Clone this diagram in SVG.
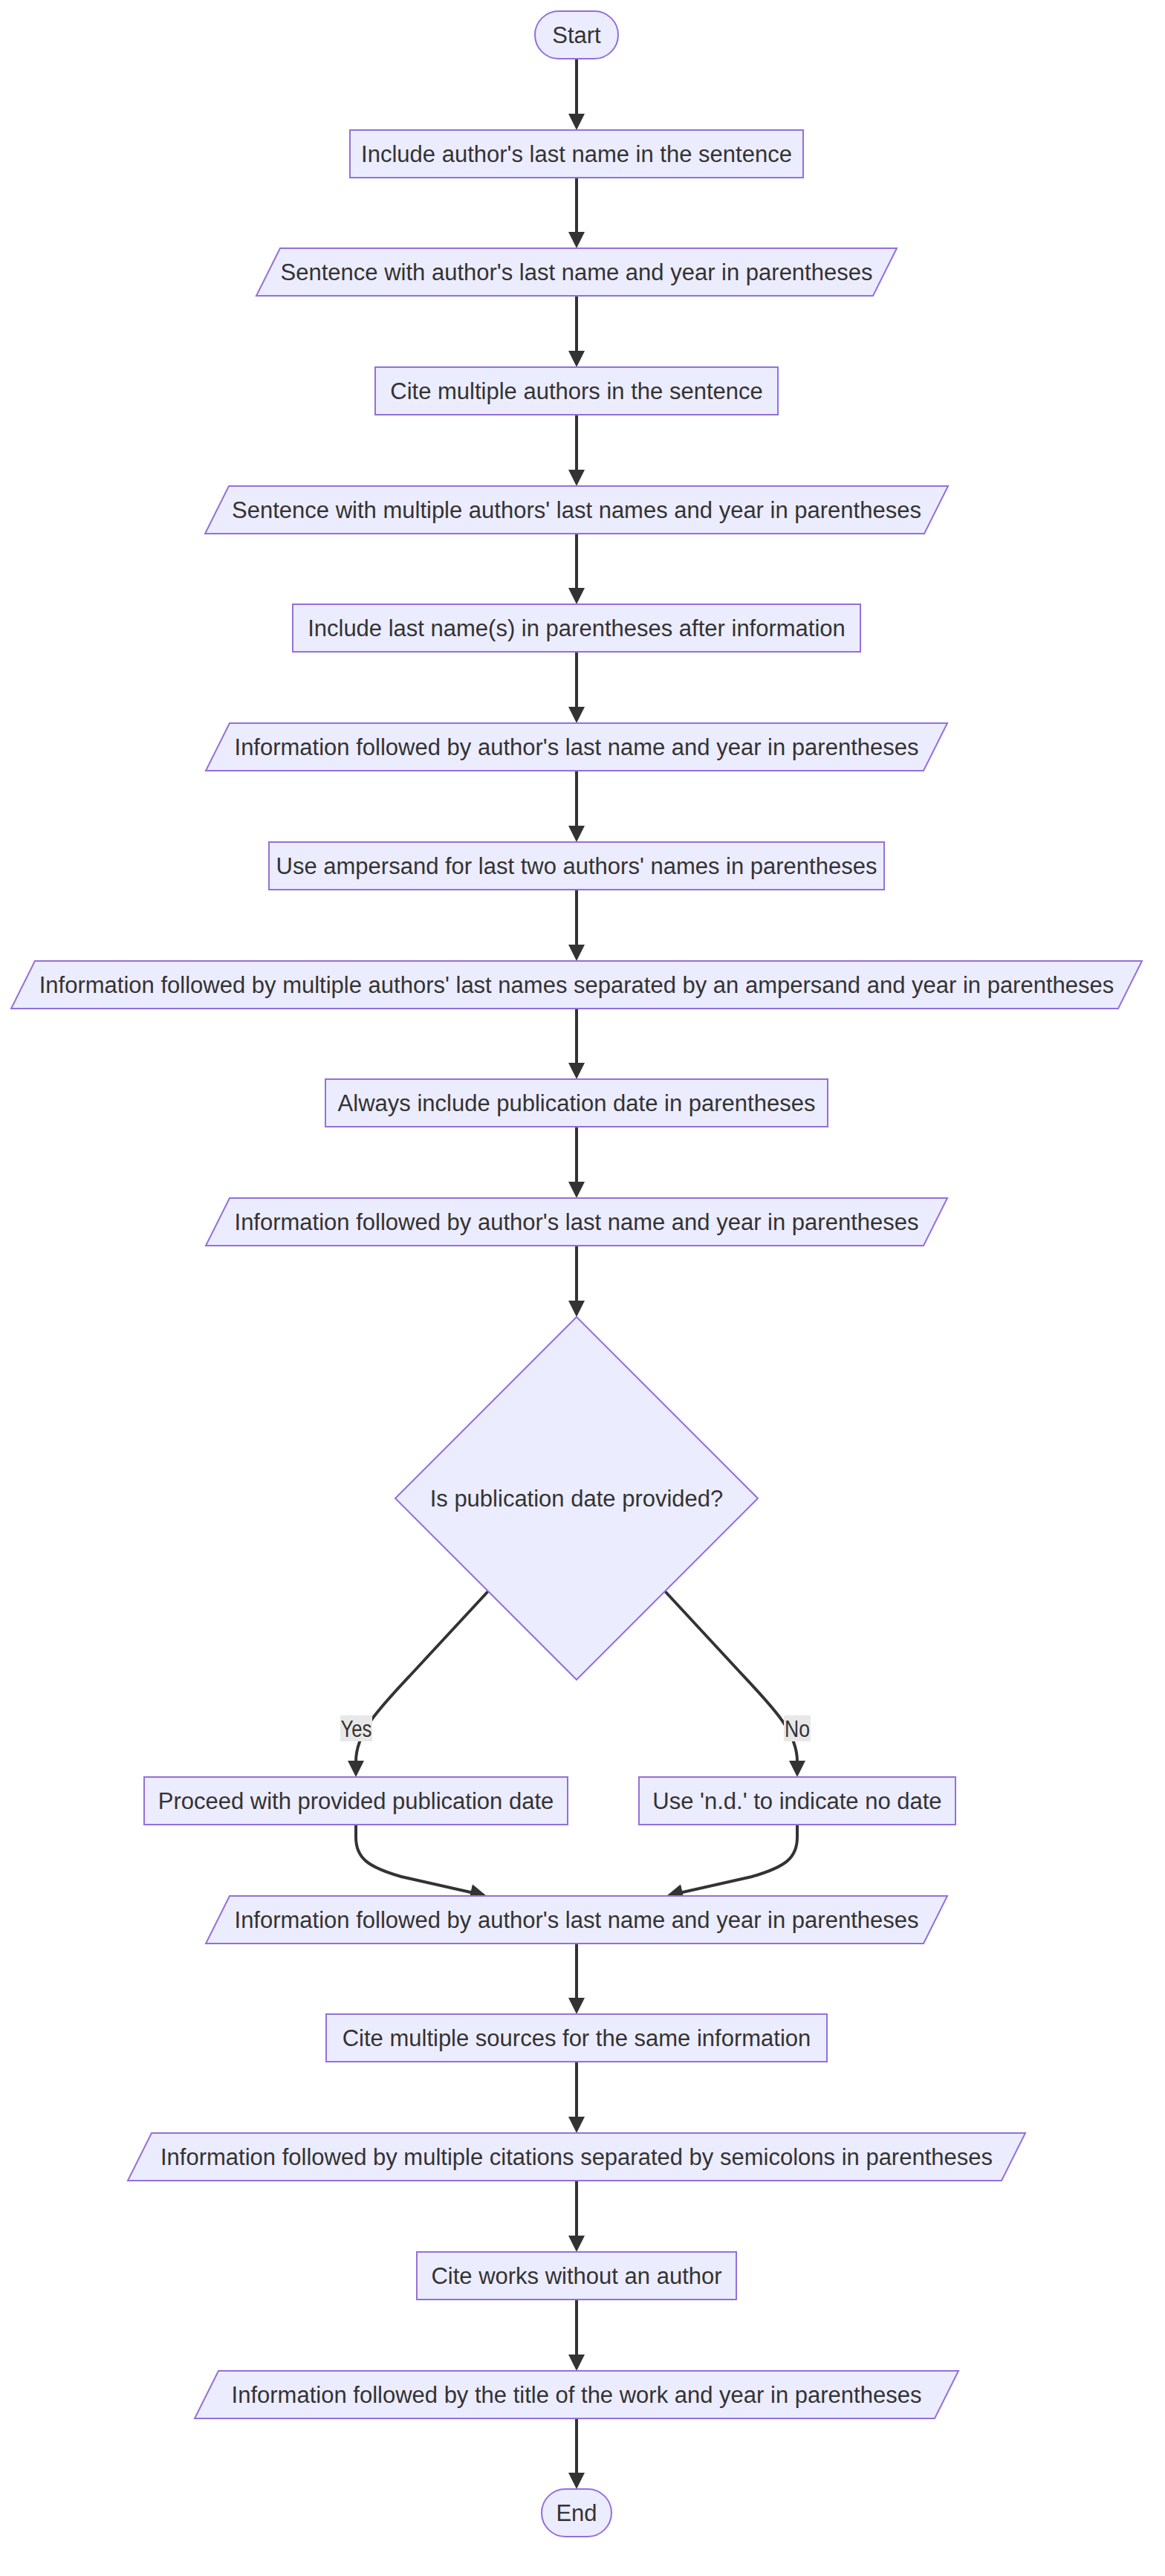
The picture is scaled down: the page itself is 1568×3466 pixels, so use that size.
<svg xmlns="http://www.w3.org/2000/svg" width="1568" height="3466" viewBox="0 0 1568 3466">
  <style>
    .node rect, .node polygon { fill: #ECECFF; stroke: #9370DB; stroke-width: 2; }
    .node text, .elabel text { font-family: "Liberation Sans", Arial, sans-serif; font-size: 31px; fill: #333333; text-anchor: middle; }
    .edge { fill: none; stroke: #333333; stroke-width: 4; marker-end: url(#arrow); }
    .elabel rect { fill: #e8e8e8; }
  </style>
  <defs>
    <marker id="arrow" viewBox="0 0 22 22" markerUnits="userSpaceOnUse" markerWidth="22" markerHeight="22" refX="18" refY="11" orient="auto">
      <path d="M0,0 L22,11 L0,22 z" fill="#333333"/>
    </marker>
  </defs>
  <rect width="1568" height="3466" fill="#ffffff"/>

  <!-- connectors -->
  <g id="connectors">
    <path class="edge" d="M776,79 L776,171"/>
    <path class="edge" d="M776,239 L776,330"/>
    <path class="edge" d="M776,398 L776,490"/>
    <path class="edge" d="M776,558 L776,650"/>
    <path class="edge" d="M776,718 L776,809"/>
    <path class="edge" d="M776,877 L776,969"/>
    <path class="edge" d="M776,1037 L776,1129"/>
    <path class="edge" d="M776,1197 L776,1289"/>
    <path class="edge" d="M776,1357 L776,1448"/>
    <path class="edge" d="M776,1516 L776,1608"/>
    <path class="edge" d="M776,1676 L776,1768"/>
    <path class="edge" d="M657,2141 L556,2250 C512,2297 479,2330 479,2370 L479,2387"/>
    <path class="edge" d="M895,2141 L996,2250 C1040,2297 1073,2330 1073,2370 L1073,2387"/>
    <path class="edge" d="M479,2456 L479,2472 C479,2500 495,2512 540,2525 L651,2550"/>
    <path class="edge" d="M1073,2456 L1073,2472 C1073,2500 1057,2512 1012,2525 L901,2550"/>
    <path class="edge" d="M776,2615 L776,2706"/>
    <path class="edge" d="M776,2774 L776,2866"/>
    <path class="edge" d="M776,2934 L776,3026"/>
    <path class="edge" d="M776,3094 L776,3186"/>
    <path class="edge" d="M776,3254 L776,3345"/>
  </g>

  <!-- edge labels -->
  <g id="label-yes" class="elabel">
    <rect x="458" y="2308" width="43" height="35"/>
    <text x="479.5" y="2337" textLength="42" lengthAdjust="spacingAndGlyphs">Yes</text>
  </g>
  <g id="label-no" class="elabel">
    <rect x="1055" y="2308" width="36" height="35"/>
    <text x="1073" y="2337" textLength="34" lengthAdjust="spacingAndGlyphs">No</text>
  </g>

  <!-- nodes -->
  <g id="start" class="node">
    <rect x="720" y="15" width="112" height="64" rx="32" ry="32"/>
    <text x="776" y="58">Start</text>
  </g>
  <g id="include-author" class="node">
    <rect x="471" y="175" width="610" height="64"/>
    <text x="776" y="218">Include author's last name in the sentence</text>
  </g>
  <g id="sentence-author" class="node">
    <polygon points="377,334 1207,334 1175,398 345,398"/>
    <text x="776" y="377">Sentence with author's last name and year in parentheses</text>
  </g>
  <g id="cite-multiple" class="node">
    <rect x="505" y="494" width="542" height="64"/>
    <text x="776" y="537">Cite multiple authors in the sentence</text>
  </g>
  <g id="sentence-multiple" class="node">
    <polygon points="308,654 1276,654 1244,718 276,718"/>
    <text x="776" y="697">Sentence with multiple authors' last names and year in parentheses</text>
  </g>
  <g id="include-parens" class="node">
    <rect x="394" y="813" width="764" height="64"/>
    <text x="776" y="856">Include last name(s) in parentheses after information</text>
  </g>
  <g id="info-author-1" class="node">
    <polygon points="309,973 1275,973 1243,1037 277,1037"/>
    <text x="776" y="1016">Information followed by author's last name and year in parentheses</text>
  </g>
  <g id="ampersand" class="node">
    <rect x="362" y="1133" width="828" height="64"/>
    <text x="776" y="1176">Use ampersand for last two authors' names in parentheses</text>
  </g>
  <g id="info-ampersand" class="node">
    <polygon points="47,1293 1537,1293 1505,1357 15,1357"/>
    <text x="776" y="1336">Information followed by multiple authors' last names separated by an ampersand and year in parentheses</text>
  </g>
  <g id="always-date" class="node">
    <rect x="438" y="1452" width="676" height="64"/>
    <text x="776" y="1495">Always include publication date in parentheses</text>
  </g>
  <g id="info-author-2" class="node">
    <polygon points="309,1612 1275,1612 1243,1676 277,1676"/>
    <text x="776" y="1655">Information followed by author's last name and year in parentheses</text>
  </g>
  <g id="date-provided" class="node">
    <polygon points="776,1772 1020,2016 776,2260 532,2016"/>
    <text x="776" y="2027">Is publication date provided?</text>
  </g>
  <g id="proceed-date" class="node">
    <rect x="194" y="2391" width="570" height="64"/>
    <text x="479" y="2434">Proceed with provided publication date</text>
  </g>
  <g id="no-date" class="node">
    <rect x="860" y="2391" width="426" height="64"/>
    <text x="1073" y="2434">Use 'n.d.' to indicate no date</text>
  </g>
  <g id="info-author-3" class="node">
    <polygon points="309,2551 1275,2551 1243,2615 277,2615"/>
    <text x="776" y="2594">Information followed by author's last name and year in parentheses</text>
  </g>
  <g id="multiple-sources" class="node">
    <rect x="439" y="2710" width="674" height="64"/>
    <text x="776" y="2753">Cite multiple sources for the same information</text>
  </g>
  <g id="info-semicolons" class="node">
    <polygon points="204,2870 1380,2870 1348,2934 172,2934"/>
    <text x="776" y="2913">Information followed by multiple citations separated by semicolons in parentheses</text>
  </g>
  <g id="no-author" class="node">
    <rect x="561" y="3030" width="430" height="64"/>
    <text x="776" y="3073">Cite works without an author</text>
  </g>
  <g id="info-title" class="node">
    <polygon points="294,3190 1290,3190 1258,3254 262,3254"/>
    <text x="776" y="3233">Information followed by the title of the work and year in parentheses</text>
  </g>
  <g id="end" class="node">
    <rect x="729" y="3349" width="94" height="64" rx="32" ry="32"/>
    <text x="776" y="3392">End</text>
  </g>
</svg>
